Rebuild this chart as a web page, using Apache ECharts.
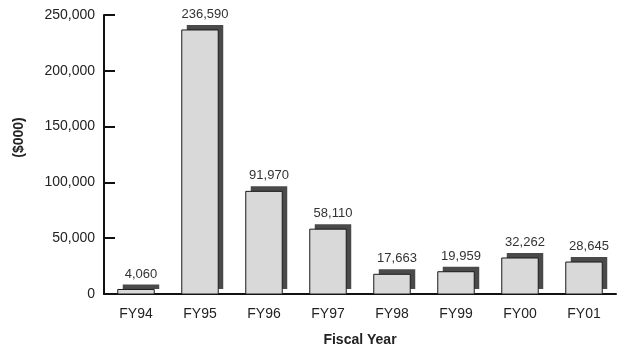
<!DOCTYPE html>
<html>
<head>
<meta charset="utf-8">
<script src="https://cdn.jsdelivr.net/npm/echarts@6/dist/echarts.min.js"></script>
<style>
  html, body { margin: 0; padding: 0; background: #fff; }
  #chart { width: 623px; height: 352px; }
</style>
</head>
<body>
<div id="chart"></div>
<script>
// Fiscal years and amounts in thousands of dollars
var categories = ['FY94', 'FY95', 'FY96', 'FY97', 'FY98', 'FY99', 'FY00', 'FY01'];
var amounts = [4060, 236590, 91970, 58110, 17663, 19959, 32262, 28645];
var yTicks = [0, 50000, 100000, 150000, 200000, 250000];

var FONT = '"Liberation Sans", Arial, sans-serif';

function withCommas(v) {
  return String(v).replace(/\B(?=(\d{3})+(?!\d))/g, ',');
}

var seriesData = amounts.map(function (v, i) { return [i, v]; });

// Each column: an offset dark block behind a light bar, value label on top
function renderColumn(params, api) {
  var idx = api.value(0);
  var val = api.value(1);
  var top = api.coord([idx, val]);
  var base = api.coord([idx, 0]);
  var band = api.size([1, 0])[0];
  var w = band * 0.57;
  var x = top[0] - w / 2;
  var h = base[1] - top[1];
  var dx = 5, dy = 5;
  return {
    type: 'group',
    children: [
      { type: 'rect', shape: { x: x + dx, y: top[1] - dy, width: w, height: h },
        style: { fill: '#4a4a4a' } },
      { type: 'rect', shape: { x: x, y: top[1], width: w, height: h },
        style: { fill: '#d9d9d9', stroke: '#1a1a1a', lineWidth: 1 } },
      { type: 'text', x: top[0] + dx, y: top[1] - dy - 4,
        style: { text: withCommas(val), align: 'center', verticalAlign: 'bottom',
                 fill: '#333', fontSize: 13, fontFamily: FONT } }
    ]
  };
}

var chart = echarts.init(document.getElementById('chart'), null, { renderer: 'canvas' });
chart.setOption({
  animation: false,
  backgroundColor: '#fff',
  textStyle: { fontFamily: FONT },
  grid: { left: 104, right: 7, top: 15, bottom: 54 },
  xAxis: {
    type: 'category',
    data: categories,
    boundaryGap: true,
    name: 'Fiscal Year',
    nameLocation: 'middle',
    nameGap: 39,
    nameTextStyle: { fontSize: 14, fontWeight: 'bold', color: '#222', fontFamily: FONT },
    axisLine: { lineStyle: { color: '#111', width: 2 } },
    axisTick: { inside: true, length: 6, lineStyle: { color: '#111', width: 1.5 } },
    axisLabel: { fontSize: 14, color: '#222', margin: 13, fontFamily: FONT },
    splitLine: { show: false }
  },
  yAxis: {
    type: 'value',
    min: yTicks[0],
    max: yTicks[yTicks.length - 1],
    interval: yTicks[1] - yTicks[0],
    name: '($000)',
    nameLocation: 'middle',
    nameRotate: 90,
    nameGap: 78,
    nameTextStyle: { fontSize: 14, fontWeight: 'bold', color: '#222', fontFamily: FONT,
                     padding: [0, 0, 0, 34] },
    axisLine: { show: true, lineStyle: { color: '#111', width: 2 } },
    axisTick: { show: true, inside: true, length: 11, lineStyle: { color: '#111', width: 2 } },
    axisLabel: { fontSize: 14, color: '#222', margin: 9, fontFamily: FONT,
                 padding: [5, 0, 0, 0], formatter: withCommas },
    splitLine: { show: false }
  },
  series: [{
    type: 'custom',
    renderItem: renderColumn,
    encode: { x: 0, y: 1 },
    data: seriesData,
    clip: false
  }]
});
</script>
</body>
</html>
